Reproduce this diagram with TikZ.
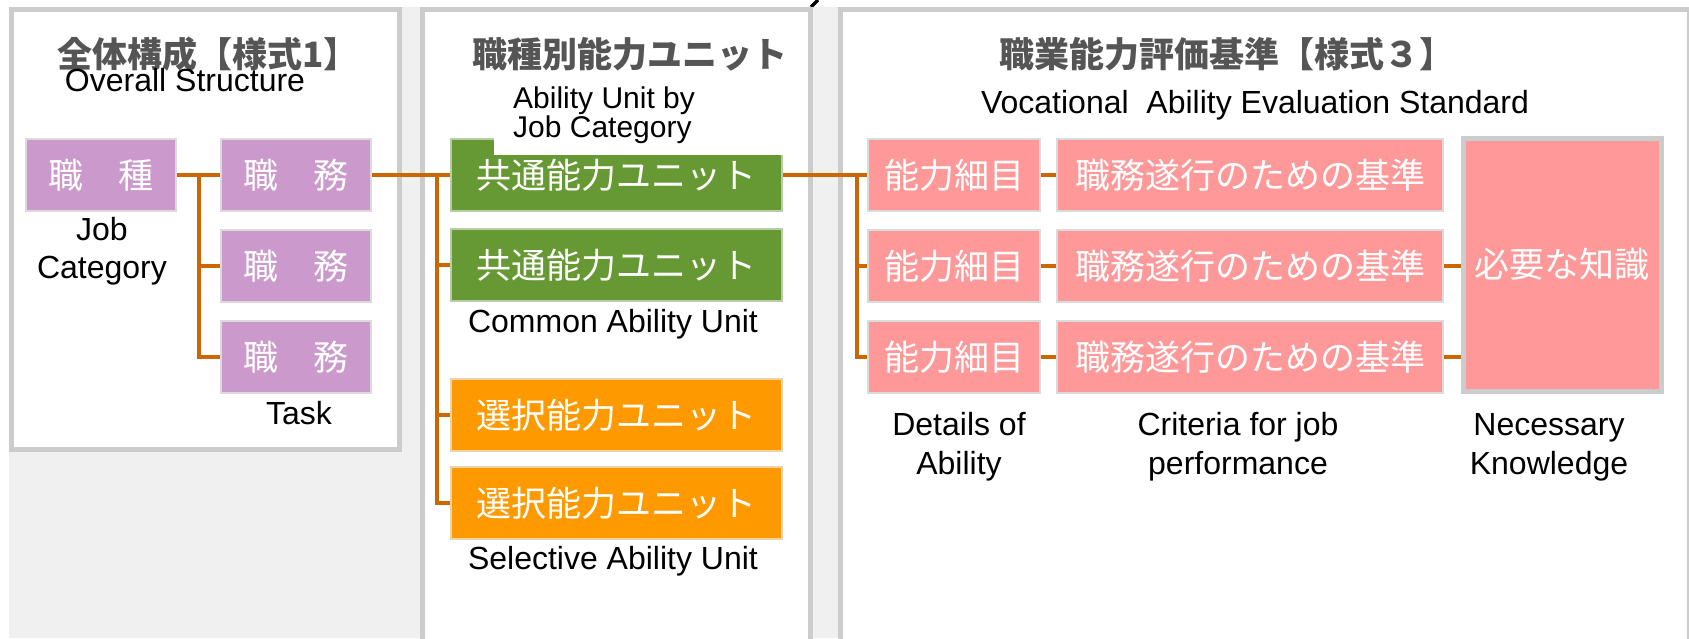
\documentclass[tikz,border=0pt]{standalone}
\usepackage{fontspec}
\setmainfont{Liberation Sans}
\newfontfamily\cjk{Noto Sans CJK JP}
\definecolor{bggray}{HTML}{F0F0F0}
\definecolor{panelgray}{HTML}{CCCCCC}
\definecolor{jobpurple}{HTML}{CC99CC}
\definecolor{unitgreen}{HTML}{669933}
\definecolor{greenedge}{HTML}{B9CCA8}
\definecolor{unitorange}{HTML}{FF9900}
\definecolor{orangeedge}{HTML}{EED3AA}
\definecolor{evalpink}{HTML}{FF9999}
\definecolor{connorange}{HTML}{CC6600}
\definecolor{titlegray}{HTML}{555555}
\begin{document}
\begin{tikzpicture}[x=1pt,y=-1pt,
  panel/.style={draw=panelgray, line width=5pt, fill=white},
  cbox/.style={rectangle, inner sep=0pt, line width=2pt, text=white,
    font=\cjk\fontsize{35}{40}\selectfont, minimum height=72pt},
  purplebox/.style={cbox, fill=jobpurple, draw=black!14, minimum width=150pt},
  greenbox/.style={cbox, fill=unitgreen, draw=greenedge, minimum width=331pt},
  orangebox/.style={cbox, fill=unitorange, draw=orangeedge, minimum width=331pt},
  pinkbox/.style={cbox, fill=evalpink, draw=black!14},
  conn/.style={draw=connorange, line width=4pt},
  title/.style={font=\cjk\bfseries\fontsize{35}{40}\selectfont, text=titlegray, inner sep=0pt},
  lbl/.style={font=\fontsize{32}{38}\selectfont, align=center, inner sep=0pt, anchor=base},
]
\useasboundingbox (0,0) rectangle (1689,638);
\clip (0,0) rectangle (1689,638);
% background
\fill[white] (0,0) rectangle (1689,638);
\fill[bggray] (9,7) rectangle (1689,638);
% stray mark at the top
\draw[line width=3.5pt, black] (811,7) -- (818,0);
% panels
\draw[panel] (11.5,9.5) rectangle (399.5,449.5);
\draw[panel] (422.5,9.5) rectangle (810.5,660);
\draw[panel] (840.5,9.5) rectangle (1689,660);

% titles
\node[title] (t1) at (208,54) {全体構成【様式1】};
\node[title] (t2) at (630,54) {職種別能力ユニット};
\node[title] (t3) at (1227,54) {職業能力評価基準【様式３】};

% boxes panel 1
\node[purplebox] (job) at (101,175) {職　種};
\node[purplebox] (task1) at (296,175) {職　務};
\node[purplebox] (task2) at (296,266) {職　務};
\node[purplebox] (task3) at (296,357) {職　務};
% boxes panel 2
\node[greenbox] (com1) at (616.5,175) {共通能力ユニット};
\node[greenbox] (com2) at (616.5,265) {共通能力ユニット};
\node[orangebox] (sel1) at (616.5,415) {選択能力ユニット};
\node[orangebox] (sel2) at (616.5,503) {選択能力ユニット};
% boxes panel 3
\node[pinkbox, minimum width=172pt] (det1) at (954,175) {能力細目};
\node[pinkbox, minimum width=172pt] (det2) at (954,266) {能力細目};
\node[pinkbox, minimum width=172pt] (det3) at (954,357) {能力細目};
\node[pinkbox, minimum width=386pt] (crit1) at (1250,175) {職務遂行のための基準};
\node[pinkbox, minimum width=386pt] (crit2) at (1250,266) {職務遂行のための基準};
\node[pinkbox, minimum width=386pt] (crit3) at (1250,357) {職務遂行のための基準};
\node[pinkbox, minimum width=198pt, minimum height=253pt, draw=panelgray, line width=5pt] (know) at (1562,264.5) {必要な知識};

% connectors
\coordinate (ja) at (199,175);
\coordinate (jb) at (437,175);
\coordinate (jc) at (857,175);
\draw[conn] (job.east) -- (task1.west);
\draw[conn] (ja) |- (task2.west);
\draw[conn] (ja) |- (task3.west);
\draw[conn] (task1.east) -- (com1.west);
\draw[conn] (jb) |- (com2.west);
\draw[conn] (jb) |- (sel1.west);
\draw[conn] (jb) |- (sel2.west);
\draw[conn] (com1.east) -- (det1.west);
\draw[conn] (jc) |- (det2.west);
\draw[conn] (jc) |- (det3.west);
\draw[conn] (det1.east) -- (crit1.west);
\draw[conn] (det2.east) -- (crit2.west);
\draw[conn] (det3.east) -- (crit3.west);
\draw[conn] (crit2.east) -- (crit2.east -| know.west);
\draw[conn] (crit3.east) -- (crit3.east -| know.west);

% white patch behind the panel-2 caption
\fill[white] (494,85) rectangle (783,155);

% labels (base anchor = baseline of the last line)
\node[lbl] (l1) at (185,91) {Overall Structure};
\node[lbl] (l2) at (102,278) {Job\\Category};
\node[lbl] (l3) at (299,424) {Task};
\node[lbl, font=\fontsize{30}{29}\selectfont, align=left, anchor=base west] (l4) at (513,137) {Ability Unit by\\Job Category};
\node[lbl] (l5) at (613,332) {Common Ability Unit};
\node[lbl] (l6) at (613,569) {Selective Ability Unit};
\node[lbl] (l7) at (1255,113) {Vocational\ \ Ability Evaluation Standard};
\node[lbl, font=\fontsize{32}{39}\selectfont] (l8) at (959,474) {Details of\\Ability};
\node[lbl, font=\fontsize{32}{39}\selectfont] (l9) at (1238,474) {Criteria for job\\performance};
\node[lbl, font=\fontsize{32}{39}\selectfont] (l10) at (1549,474) {Necessary\\Knowledge};
\end{tikzpicture}
\end{document}
